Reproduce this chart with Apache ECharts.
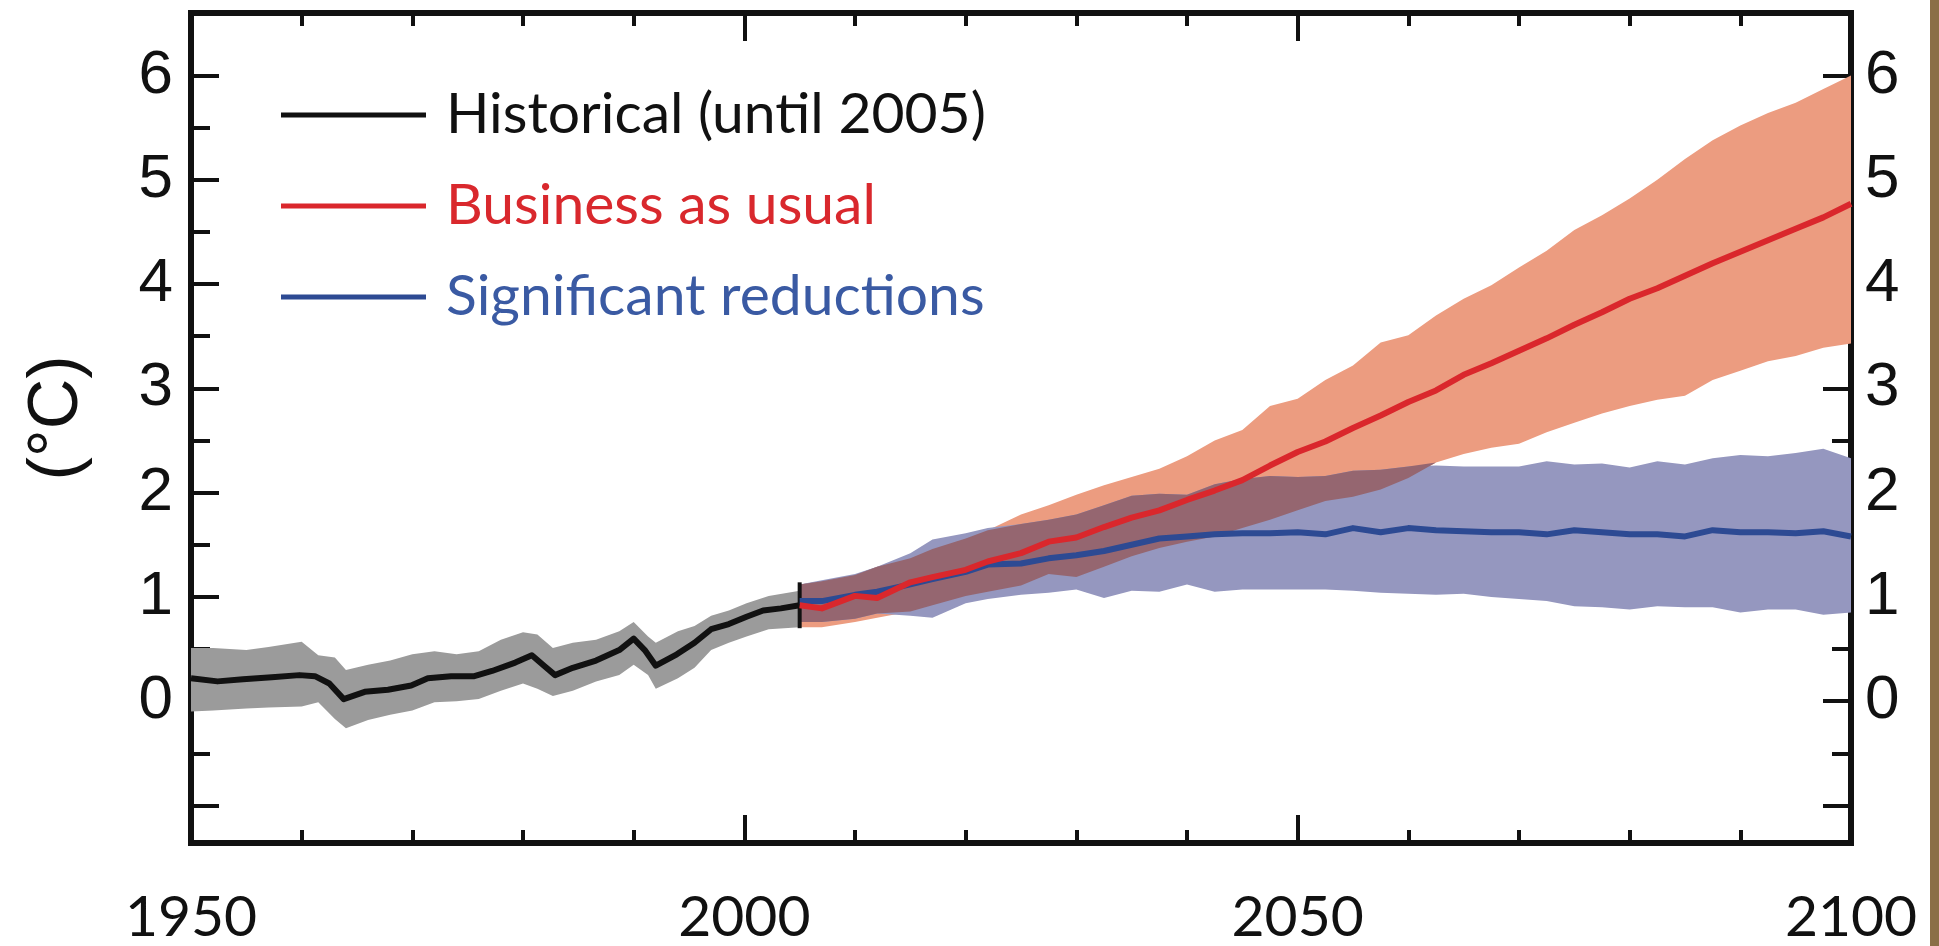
<!DOCTYPE html>
<html>
<head>
<meta charset="utf-8">
<script src="https://cdn.jsdelivr.net/npm/echarts@6/dist/echarts.min.js"></script>
<style>
html,body{margin:0;padding:0;background:#ffffff;}
#chart{width:1939px;height:946px;}
</style>
</head>
<body>
<div id="chart"></div>
<script>
// ---------------- data ----------------
const histYears = [1950, 1952.4, 1954.7, 1957.3, 1959.8, 1961.2, 1962.5, 1963.8, 1965.7, 1967.8, 1969.9, 1971.4, 1973.5, 1975.6, 1977.2, 1979.3, 1980.8, 1981.9, 1982.9, 1984.5, 1986.6, 1988.7, 1990, 1991, 1992, 1993.9, 1995.5, 1997, 1998.6, 2000.2, 2001.7, 2003.3, 2005];
const histMean = [0.22, 0.19, 0.21, 0.23, 0.25, 0.24, 0.17, 0.02, 0.09, 0.11, 0.15, 0.22, 0.24, 0.24, 0.29, 0.37, 0.44, 0.34, 0.25, 0.32, 0.39, 0.49, 0.60, 0.49, 0.34, 0.45, 0.56, 0.69, 0.74, 0.81, 0.87, 0.89, 0.92];

const histBandYears = [1950, 1952, 1955, 1957, 1960, 1961.5, 1963, 1964, 1966, 1968, 1970, 1972, 1974, 1976, 1978, 1980, 1981.3, 1982.7, 1984.5, 1986.6, 1988.7, 1990, 1991.3, 1992, 1994, 1995.5, 1997, 1998.6, 2000.2, 2002.2, 2005];
const histHigh = [0.51, 0.51, 0.49, 0.52, 0.57, 0.44, 0.42, 0.30, 0.35, 0.39, 0.45, 0.48, 0.45, 0.48, 0.59, 0.66, 0.64, 0.51, 0.56, 0.59, 0.67, 0.76, 0.62, 0.56, 0.67, 0.72, 0.82, 0.87, 0.94, 1.01, 1.06];
const histLow = [-0.10, -0.09, -0.07, -0.06, -0.05, -0.01, -0.17, -0.26, -0.18, -0.13, -0.09, -0.01, 0.00, 0.02, 0.10, 0.17, 0.12, 0.05, 0.10, 0.19, 0.25, 0.35, 0.25, 0.12, 0.22, 0.32, 0.49, 0.56, 0.62, 0.69, 0.71];

const endMarker = [[2005, 0.70], [2005, 1.14]];

const futureYears = [2005, 2007, 2010, 2012, 2015, 2017, 2020, 2022, 2025, 2027.5, 2030, 2032.5, 2035, 2037.5, 2040, 2042.5, 2045, 2047.5, 2050, 2052.5, 2055, 2057.5, 2060, 2062.5, 2065, 2067.5, 2070, 2072.5, 2075, 2077.5, 2080, 2082.5, 2085, 2087.5, 2090, 2092.5, 2095, 2097.5, 2100];

// Business as usual (red line, orange band)
const bauMean = [0.92, 0.89, 1.01, 0.99, 1.14, 1.19, 1.26, 1.34, 1.42, 1.53, 1.57, 1.67, 1.76, 1.83, 1.93, 2.02, 2.12, 2.26, 2.39, 2.49, 2.62, 2.74, 2.87, 2.98, 3.13, 3.24, 3.36, 3.48, 3.61, 3.73, 3.86, 3.96, 4.08, 4.20, 4.31, 4.42, 4.53, 4.64, 4.77];
const bauHigh = [1.12, 1.15, 1.21, 1.29, 1.37, 1.46, 1.56, 1.64, 1.79, 1.88, 1.98, 2.07, 2.15, 2.23, 2.35, 2.50, 2.60, 2.83, 2.90, 3.08, 3.22, 3.44, 3.51, 3.70, 3.86, 3.99, 4.16, 4.32, 4.52, 4.66, 4.82, 5.00, 5.20, 5.38, 5.52, 5.64, 5.74, 5.87, 6.00];
const bauLow = [0.71, 0.71, 0.76, 0.80, 0.86, 0.92, 1.01, 1.05, 1.11, 1.22, 1.19, 1.29, 1.39, 1.47, 1.53, 1.58, 1.66, 1.74, 1.83, 1.92, 1.96, 2.03, 2.14, 2.29, 2.37, 2.43, 2.47, 2.58, 2.67, 2.76, 2.83, 2.89, 2.93, 3.08, 3.17, 3.26, 3.31, 3.39, 3.43];

// Significant reductions (blue line, lavender band)
const sigMean = [0.96, 0.96, 1.02, 1.05, 1.12, 1.17, 1.24, 1.31, 1.32, 1.37, 1.40, 1.44, 1.50, 1.56, 1.58, 1.60, 1.61, 1.61, 1.62, 1.60, 1.66, 1.62, 1.66, 1.64, 1.63, 1.62, 1.62, 1.60, 1.64, 1.62, 1.60, 1.60, 1.58, 1.64, 1.62, 1.62, 1.61, 1.63, 1.58];
const sigHigh = [1.12, 1.16, 1.22, 1.29, 1.42, 1.55, 1.61, 1.66, 1.70, 1.74, 1.79, 1.88, 1.97, 1.99, 1.98, 2.08, 2.13, 2.16, 2.15, 2.16, 2.21, 2.22, 2.25, 2.26, 2.25, 2.25, 2.25, 2.30, 2.27, 2.28, 2.24, 2.30, 2.27, 2.33, 2.36, 2.35, 2.38, 2.42, 2.33];
const sigLow = [0.76, 0.76, 0.79, 0.84, 0.82, 0.80, 0.94, 0.98, 1.02, 1.04, 1.07, 0.99, 1.06, 1.05, 1.12, 1.05, 1.07, 1.07, 1.07, 1.07, 1.06, 1.04, 1.03, 1.02, 1.03, 1.00, 0.98, 0.96, 0.91, 0.90, 0.88, 0.91, 0.90, 0.90, 0.85, 0.88, 0.88, 0.83, 0.85];

// axis ticks / labels
const xLabelValues = [1950, 2000, 2050, 2100];
const xMajorTicks = [2000, 2050];
const xMinorTicks = [1960, 1970, 1980, 1990, 2010, 2020, 2030, 2040, 2060, 2070, 2080, 2090];
const yLabelValues = [0, 1, 2, 3, 4, 5, 6];
const yMajorTicks = [-1, 0, 1, 2, 3, 4, 5, 6];
const yMinorTicks = [-0.5, 0.5, 1.5, 2.5, 3.5, 4.5, 5.5];

const seriesNames = ['Historical (until 2005)', 'Business as usual', 'Significant reductions'];
const yUnit = '(°C)';

// ---------------- helpers ----------------
const pairs = (xs, ys) => xs.map((x, i) => [x, ys[i]]);
const ovLow = bauLow.map((l, i) => Math.max(l, sigLow[i]));
const ovHigh = bauHigh.map((h, i) => Math.max(ovLow[i], Math.min(h, sigHigh[i])));

const INK = '#111111';
const GRAY = '#9b9b9b';
const ORANGE = '#ec9c80';
const LAV = '#9597bf';
const OVER = '#956670';
const RED = '#da272c';
const BLUE = '#2d4a93';

// band drawn as one polygon through the library's coordinate system
function band(name, xs, lo, hi, color) {
  return {
    type: 'custom', name: name, xAxisIndex: 0, yAxisIndex: 0, silent: true,
    data: pairs(xs, hi),
    renderItem: function (params, api) {
      if (params.dataIndex !== 0) return null;
      const pts = [];
      for (let i = 0; i < xs.length; i++) pts.push(api.coord([xs[i], hi[i]]));
      for (let i = xs.length - 1; i >= 0; i--) pts.push(api.coord([xs[i], lo[i]]));
      return { type: 'polygon', shape: { points: pts }, style: { fill: color, stroke: null } };
    }
  };
}
function line(name, xs, ys, color) {
  return { type: 'line', name: name, data: pairs(xs, ys), symbol: 'none', color: color,
    lineStyle: { color: color, width: 6, join: 'round' }, itemStyle: { color: color },
    xAxisIndex: 0, yAxisIndex: 0, silent: true };
}

const tickStyle = { color: INK, width: 4 };
const axLine = { color: INK, width: 6, cap: 'square' };

function xAx(pos, ticks, len, withLine, labels) {
  return {
    type: 'value', position: pos, min: 1950, max: 2100, gridIndex: 0,
    axisLine: { show: withLine, onZero: false, lineStyle: axLine },
    axisTick: { show: true, inside: true, length: len, lineStyle: tickStyle, customValues: ticks },
    axisLabel: labels ? { show: true, customValues: xLabelValues, margin: 46, fontFamily: 'Lato', fontSize: 57,
      color: INK, showMinLabel: true, showMaxLabel: true, formatter: v => String(v) } : { show: false },
    splitLine: { show: false }
  };
}
function yAx(pos, ticks, len, withLine, labels) {
  return {
    type: 'value', position: pos, min: -1.36, max: 6.6, gridIndex: 0,
    axisLine: { show: withLine, onZero: false, lineStyle: axLine },
    axisTick: { show: true, inside: true, length: len, lineStyle: tickStyle, customValues: ticks },
    axisLabel: labels ? { show: true, customValues: yLabelValues, margin: pos === 'left' ? 18 : 14,
      fontFamily: 'Liberation Sans', fontSize: 62, color: INK, showMinLabel: true, showMaxLabel: true,
      formatter: v => String(v) } : { show: false },
    splitLine: { show: false }
  };
}

const option = {
  animation: false,
  backgroundColor: '#ffffff',
  grid: { left: 191, right: 88, top: 13, bottom: 103, containLabel: false, outerBoundsMode: 'none' },
  xAxis: [
    xAx('bottom', xMajorTicks, 28, true, true),
    xAx('bottom', xMinorTicks, 13, false, false),
    xAx('top', xMajorTicks, 28, true, false),
    xAx('top', xMinorTicks, 13, false, false)
  ],
  yAxis: [
    yAx('left', yMajorTicks, 28, true, true),
    yAx('left', yMinorTicks, 19, false, false),
    yAx('right', yMajorTicks, 28, true, true),
    yAx('right', yMinorTicks, 19, false, false)
  ],
  legend: {
    show: true, left: 276, top: 80, orient: 'vertical', icon: 'rect',
    itemWidth: 145, itemHeight: 5, itemGap: 31, selectedMode: false,
    textStyle: { fontFamily: 'Lato', fontSize: 57, lineHeight: 60, padding: [0, 0, 0, 15] },
    data: [
      { name: seriesNames[0], textStyle: { color: '#111111' } },
      { name: seriesNames[1], textStyle: { color: '#d9282d' } },
      { name: seriesNames[2], textStyle: { color: '#3a5aa3' } }
    ]
  },
  graphic: [
    { type: 'text', x: 58, y: 418, rotation: Math.PI / 2,
      style: { text: yUnit, fill: INK, font: '70px "Liberation Sans"', textAlign: 'center', textVerticalAlign: 'middle' } },
    { type: 'rect', x: 1930, y: 0, shape: { width: 9, height: 946 }, style: { fill: '#8a6f47' } }
  ],
  series: [
    band('histBand', histBandYears, histLow, histHigh, GRAY),
    band('bauBand', futureYears, bauLow, bauHigh, ORANGE),
    band('sigBand', futureYears, sigLow, sigHigh, LAV),
    band('overlapBand', futureYears, ovLow, ovHigh, OVER),
    line(seriesNames[0], histYears, histMean, INK),
    { type: 'line', name: 'end2005', data: endMarker, symbol: 'none', silent: true,
      lineStyle: { color: INK, width: 4 }, xAxisIndex: 0, yAxisIndex: 0 },
    line(seriesNames[2], futureYears, sigMean, BLUE),
    line(seriesNames[1], futureYears, bauMean, RED)
  ]
};

const chart = echarts.init(document.getElementById('chart'), null, { renderer: 'canvas' });
chart.setOption(option);
</script>
</body>
</html>
